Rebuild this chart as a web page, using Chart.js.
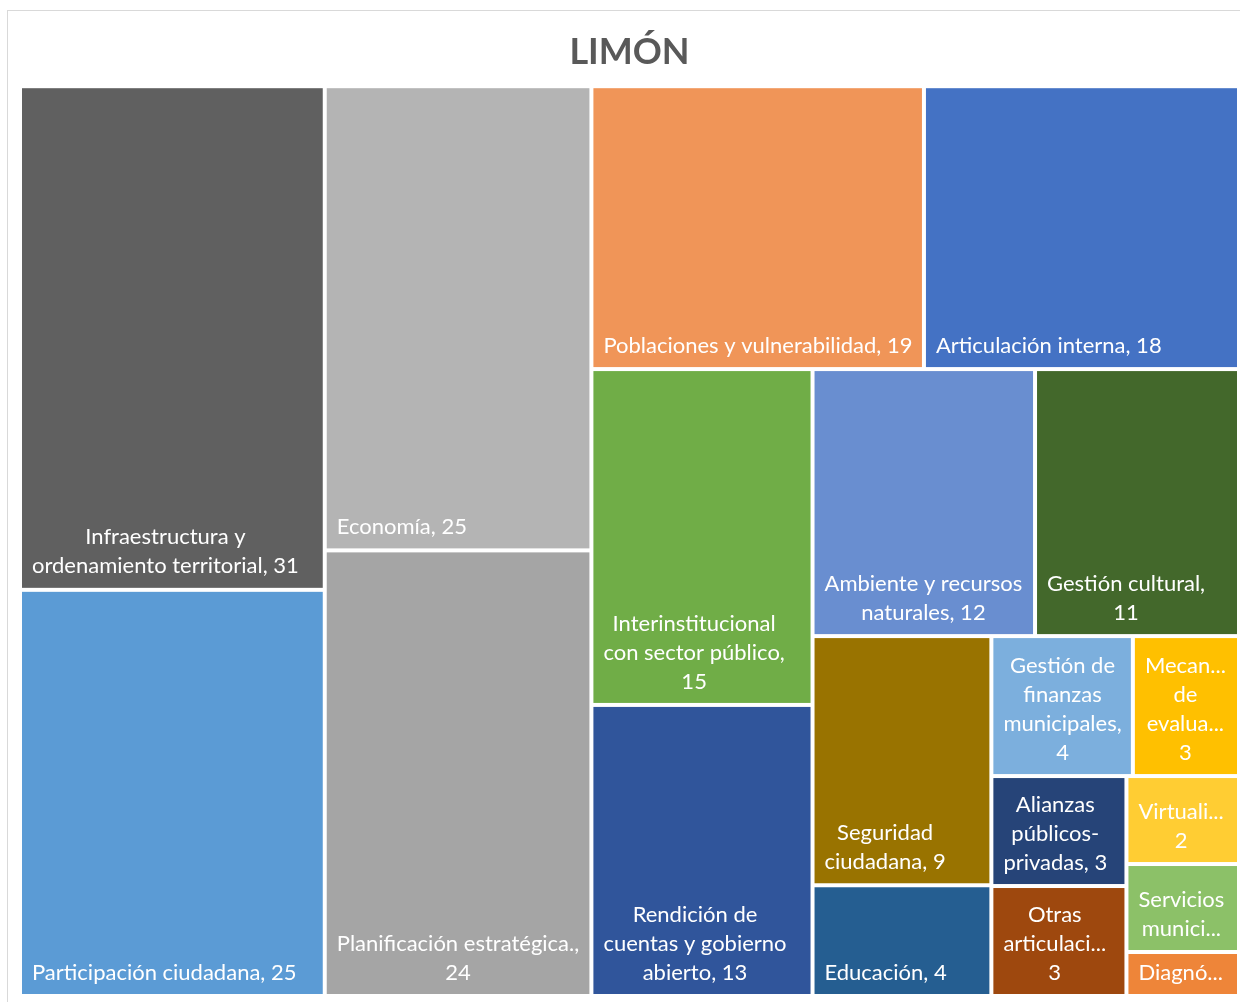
<!DOCTYPE html>
<html>
<head>
<meta charset="utf-8">
<script src="https://cdn.jsdelivr.net/npm/chart.js@4.4.0/dist/chart.umd.min.js"></script>
<style>
  html, body { margin: 0; padding: 0; background: #fff; }
  #frame { position: absolute; left: 7px; top: 10px; width: 1240px; height: 1000px; border: 1px solid #d9d9d9; box-sizing: border-box; }
  #wrap { position: absolute; left: 0; top: 0; width: 1240px; height: 1002px; }
</style>
</head>
<body>
<div id="frame"></div>
<div id="wrap"><canvas id="treemap"></canvas></div>
<script>
const categories = [
    "Infraestructura y ordenamiento territorial",
    "Participación ciudadana",
    "Economía",
    "Planificación estratégica.",
    "Poblaciones y vulnerabilidad",
    "Articulación interna",
    "Interinstitucional con sector público",
    "Rendición de cuentas y gobierno abierto",
    "Ambiente y recursos naturales",
    "Gestión cultural",
    "Seguridad ciudadana",
    "Educación",
    "Gestión de finanzas municipales",
    "Mecanismos de evaluación",
    "Alianzas públicos-privadas",
    "Otras articulaciones",
    "Virtualización",
    "Servicios municipales",
    "Diagnóstico"
];

const values = [31, 25, 25, 24, 19, 18, 15, 13, 12, 11, 9, 4, 4, 3, 3, 3, 2, 2, 1];

const colors = [
    "#606060", "#5b9bd5", "#b4b4b4", "#a5a5a5", "#f09558", "#4472c4",
    "#70ad47", "#30559b", "#698ed0", "#43682b", "#997300", "#255e91",
    "#7cafdd", "#ffc000", "#264478", "#9e480e", "#ffcd33", "#8cc168",
    "#ee8539"
];

const LABEL_FONT = "22px Lato";
const LINE_H = 29;
const PAD_LEFT = 10, PAD_RIGHT = 8, PAD_TOP = 3, PAD_BOTTOM = 7;
const GAP = 2;

function worstRatio(row, side, k) {
    const t = row.reduce((a, b) => a + b, 0) * k / side;
    let m = 0;
    row.forEach(v => {
        const l = v * k / t;
        m = Math.max(m, l / t, t / l);
    });
    return m;
}

// squarified layout, a strip only grows when it clearly helps (like Excel)
function squarify(vals, W, H) {
    const total = vals.reduce((a, b) => a + b, 0);
    const k = W * H / total;
    const rects = [];
    let x = 0, y = 0, w = W, h = H, i = 0;
    while (i < vals.length) {
        const vertical = w >= h;
        const side = vertical ? h : w;
        let row = [vals[i]];
        let best = worstRatio(row, side, k);
        let j = i + 1;
        while (j < vals.length) {
            const cand = row.concat(vals[j]);
            const r = worstRatio(cand, side, k);
            if (r < best * 0.75) { row = cand; best = r; j++; }
            else break;
        }
        const thick = row.reduce((a, b) => a + b, 0) * k / side;
        let off = 0;
        row.forEach((v, n) => {
            const len = v * k / thick;
            if (vertical) rects.push({ i: i + n, x: x, y: y + off, w: thick, h: len });
            else rects.push({ i: i + n, x: x + off, y: y, w: len, h: thick });
            off += len;
        });
        if (vertical) { x += thick; w -= thick; }
        else { y += thick; h -= thick; }
        i = j;
    }
    return rects;
}

function fitWord(ctx, s, maxW) {
    if (ctx.measureText(s).width <= maxW) return s;
    let t = s;
    while (t.length > 1 && ctx.measureText(t + "...").width > maxW) t = t.slice(0, -1);
    return t.replace(/[,\s]+$/, "") + "...";
}

function wrapLabel(ctx, text, maxW) {
    const tokens = text.match(/[^\s-]+-?\s*/g);
    const lines = [];
    let cur = "";
    tokens.forEach(tok => {
        const test = cur + tok;
        if (cur && ctx.measureText(test.trim()).width > maxW) {
            lines.push(cur.trim());
            cur = tok;
        } else {
            cur = test;
        }
    });
    if (cur) lines.push(cur.trim());
    return lines.map(l => fitWord(ctx, l, maxW));
}

const treemapPlugin = {
    id: "treemapCells",
    afterDatasetsDraw(chart) {
        const ctx = chart.ctx;
        const xs = chart.scales.x;
        const ys = chart.scales.y;
        const area = chart.chartArea;
        const aspect = (area.right - area.left) / (area.bottom - area.top);
        const rects = squarify(values, aspect, 1);

        rects.forEach(r => {
            const left = xs.getPixelForValue(r.x / aspect) + GAP;
            const right = xs.getPixelForValue((r.x + r.w) / aspect) - GAP;
            const top = ys.getPixelForValue(r.y) + GAP;
            const bottom = ys.getPixelForValue(r.y + r.h) - GAP;

            ctx.save();
            ctx.fillStyle = colors[r.i];
            ctx.fillRect(left, top, right - left, bottom - top);

            ctx.beginPath();
            ctx.rect(left, top, right - left, bottom - top);
            ctx.clip();

            ctx.font = LABEL_FONT;
            ctx.fillStyle = "#ffffff";
            ctx.textBaseline = "middle";
            ctx.textAlign = "center";
            const maxW = right - left - PAD_LEFT - PAD_RIGHT;
            let lines = wrapLabel(ctx, categories[r.i] + ", " + values[r.i], maxW);
            const maxLines = Math.max(1, Math.floor((bottom - top - PAD_TOP - PAD_BOTTOM) / LINE_H));
            lines = lines.slice(0, maxLines);
            const blockW = Math.max(...lines.map(l => ctx.measureText(l).width));
            const cx = left + PAD_LEFT + blockW / 2;
            const lastY = bottom - PAD_BOTTOM - LINE_H / 2;
            lines.forEach((l, n) => {
                ctx.fillText(l, cx, lastY - (lines.length - 1 - n) * LINE_H);
            });
            ctx.restore();
        });
    }
};

new Chart(
    document.getElementById("treemap"),
    {
        type: "scatter",
        data: {
            datasets: [{ data: [] }]
        },
        options: {
            responsive: true,
            maintainAspectRatio: false,
            animation: false,
            layout: {
                padding: { top: 10, left: 20, right: 1, bottom: 6 }
            },
            plugins: {
                legend: { display: false },
                tooltip: { enabled: false },
                title: {
                    display: true,
                    text: "LIMÓN",
                    color: "#595959",
                    font: { family: "Lato", size: 36, weight: "bold" },
                    padding: { top: 21, bottom: 12 }
                }
            },
            scales: {
                x: { display: false, min: 0, max: 1 },
                y: { display: false, min: 0, max: 1, reverse: true }
            }
        },
        plugins: [treemapPlugin]
    }
);
</script>
</body>
</html>
